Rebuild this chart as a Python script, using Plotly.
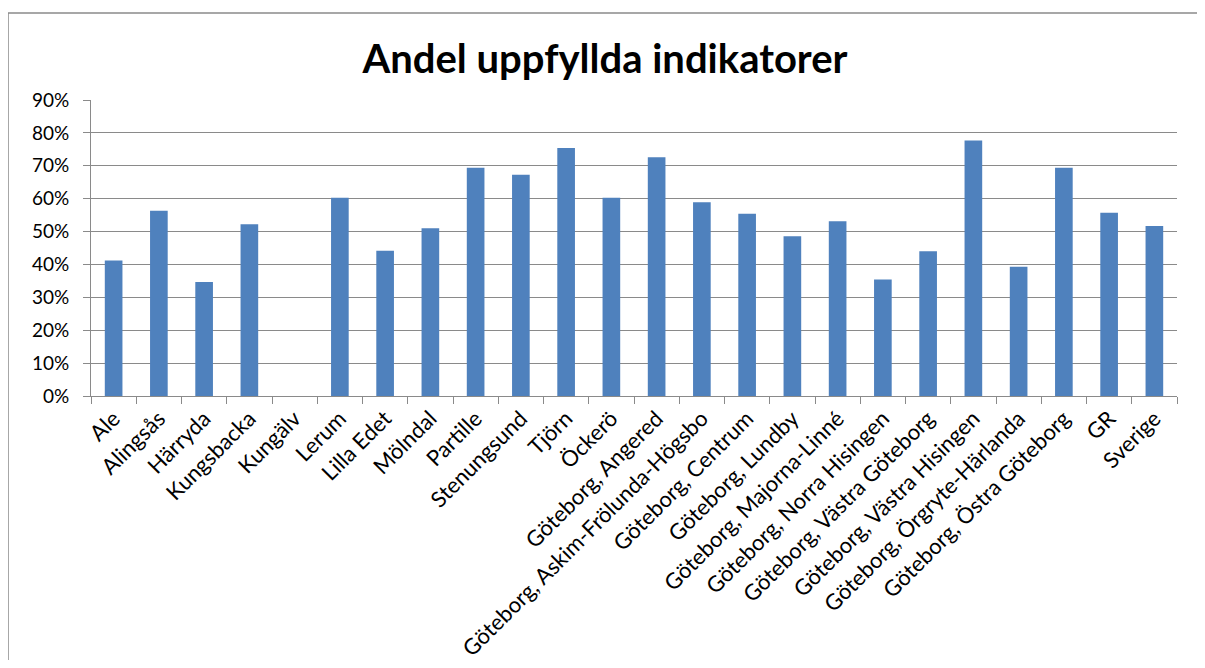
import plotly.graph_objects as go

categories = ["Ale", "Alingsås", "Härryda", "Kungsbacka", "Kungälv", "Lerum", "Lilla Edet",
              "Mölndal", "Partille", "Stenungsund", "Tjörn", "Öckerö", "Göteborg, Angered",
              "Göteborg, Askim-Frölunda-Högsbo", "Göteborg, Centrum", "Göteborg, Lundby",
              "Göteborg, Majorna-Linné", "Göteborg, Norra Hisingen", "Göteborg, Västra Göteborg",
              "Göteborg, Västra Hisingen", "Göteborg, Örgryte-Härlanda", "Göteborg, Östra Göteborg",
              "GR", "Sverige"]
values = [0.412, 0.563, 0.347, 0.522, 0.0, 0.603, 0.442, 0.510, 0.694, 0.673, 0.754,
          0.603, 0.726, 0.589, 0.554, 0.486, 0.531, 0.354, 0.440, 0.777, 0.393, 0.694,
          0.557, 0.517]
y_ticks = [0, 0.1, 0.2, 0.3, 0.4, 0.5, 0.6, 0.7, 0.8, 0.9]

FONT = "Lato"
GRID = "#8a8a8a"

W, H = 1189, 652
L, T, R, B = 83, 92, 20, 264
PW = W - L - R
PH = H - T - B

fig = go.Figure(go.Bar(x=categories, y=values, marker_color="#4F81BD",
                       marker_line_width=0))

fig.update_layout(
    width=W, height=H,
    margin=dict(l=L, r=R, t=T, b=B, autoexpand=False),
    paper_bgcolor="white", plot_bgcolor="white",
    bargap=0.61,
    showlegend=False,
    title=dict(text="<b>Andel uppfyllda indikatorer</b>", x=(605 - 8) / W, xanchor="center",
               y=1 - 51 / H, yanchor="middle",
               font=dict(family=FONT, size=40, color="black")),
    font=dict(family=FONT, size=20, color="black"),
)
fig.update_xaxes(
    type="category", tickangle=-45, tickson="boundaries",
    ticks="outside", ticklen=7, tickcolor=GRID, tickwidth=1,
    showline=True, linecolor=GRID, linewidth=1, automargin=False,
    showgrid=False, tickfont=dict(family=FONT, size=22, color="black"),
)
fig.update_yaxes(
    range=[0, 0.9], tickvals=y_ticks, tickformat=".0%",
    ticks="outside", ticklen=7, tickcolor=GRID, ticklabelstandoff=10,
    showline=True, linecolor=GRID, linewidth=1, automargin=False,
    showgrid=True, gridcolor=GRID, gridwidth=1, zeroline=False,
    tickfont=dict(family=FONT, size=19, color="black"),
)
# outer chart frame (top and left edges visible in the reference)
top_y = (PH + T - 5) / PH
left_x = (0 - L) / PW
fig.add_shape(type="line", xref="paper", yref="paper",
              x0=left_x, x1=(W - L) / PW, y0=top_y, y1=top_y,
              line=dict(color="#8a8a8a", width=1.5))
fig.add_shape(type="line", xref="paper", yref="paper",
              x0=left_x, x1=left_x, y0=top_y, y1=-B / PH,
              line=dict(color="#8a8a8a", width=1.5))

fig.write_html("out.html")
